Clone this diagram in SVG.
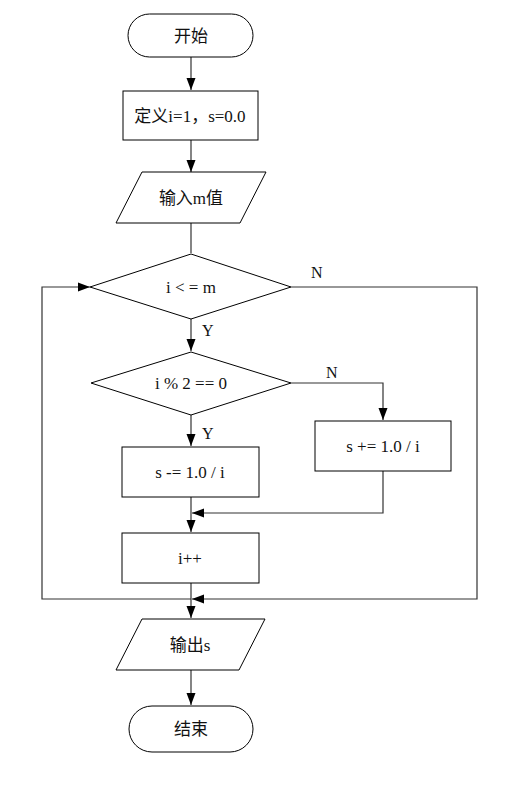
<svg xmlns="http://www.w3.org/2000/svg" width="509" height="785" viewBox="0 0 509 785">
<defs>
<marker id="arr" viewBox="0 0 12 10" refX="12" refY="5" markerWidth="12" markerHeight="10" markerUnits="userSpaceOnUse" orient="auto">
<path d="M0,0.5 L12,5 L0,9.5 Z" fill="#000"/>
</marker>
</defs>
<style>
.s{fill:#fff;stroke:#000;stroke-width:1}
.c{fill:none;stroke:#333;stroke-width:1.2}
.t{font-family:"Liberation Serif","Noto Sans CJK SC",serif;font-size:17px;fill:#111;text-anchor:middle;dominant-baseline:central}
.l{font-family:"Liberation Serif",serif;font-size:16px;fill:#111}
</style>
<rect width="509" height="785" fill="#fff"/>
<g id="connectors">
<path class="c" d="M191,57 V90" marker-end="url(#arr)"/>
<path class="c" d="M191,140 V172" marker-end="url(#arr)"/>
<path class="c" d="M191,223 V253"/>
<path class="c" d="M191,319 V351" marker-end="url(#arr)"/>
<path class="c" d="M191,415 V446" marker-end="url(#arr)"/>
<path class="c" d="M291,383 H383 V420" marker-end="url(#arr)"/>
<path class="c" d="M383,471 V513 H192" marker-end="url(#arr)"/>
<path class="c" d="M191,497 V532" marker-end="url(#arr)"/>
<path class="c" d="M191,583 V618" marker-end="url(#arr)"/>
<path class="c" d="M191,599 H42 V287 H90" marker-end="url(#arr)"/>
<path class="c" d="M291,287 H477 V599 H192" marker-end="url(#arr)"/>
<path class="c" d="M191,670 V705" marker-end="url(#arr)"/>
<text class="l" x="311" y="278">N</text>
<text class="l" x="202" y="336">Y</text>
<text class="l" x="326" y="378">N</text>
<text class="l" x="202" y="439">Y</text>
</g>
<g id="start"><rect class="s" x="128" y="14" width="125" height="43" rx="21.5"/><text class="t" x="191" y="36">开始</text></g>
<g id="init"><rect class="s" x="123" y="91" width="135" height="49"/><text class="t" x="190" y="116">定义i=1，s=0.0</text></g>
<g id="input"><polygon class="s" points="142,172 266,172 240,223 116,223"/><text class="t" x="191" y="198">输入m值</text></g>
<g id="cond1"><polygon class="s" points="191,254 291,287 191,319 90,287"/><text class="t" x="191" y="287">i &lt; = m</text></g>
<g id="cond2"><polygon class="s" points="191,352 291,383 191,415 91,383"/><text class="t" x="191" y="383">i % 2 == 0</text></g>
<g id="plus"><rect class="s" x="315" y="421" width="136" height="50"/><text class="t" x="383" y="446">s += 1.0 / i</text></g>
<g id="minus"><rect class="s" x="122" y="447" width="137" height="50"/><text class="t" x="190" y="472">s -= 1.0 / i</text></g>
<g id="inc"><rect class="s" x="122" y="533" width="137" height="50"/><text class="t" x="190" y="558">i++</text></g>
<g id="output"><polygon class="s" points="142,619 265,619 239,670 116,670"/><text class="t" x="190" y="645">输出s</text></g>
<g id="end"><rect class="s" x="129" y="706" width="124" height="46" rx="23"/><text class="t" x="191" y="729">结束</text></g>
</svg>
